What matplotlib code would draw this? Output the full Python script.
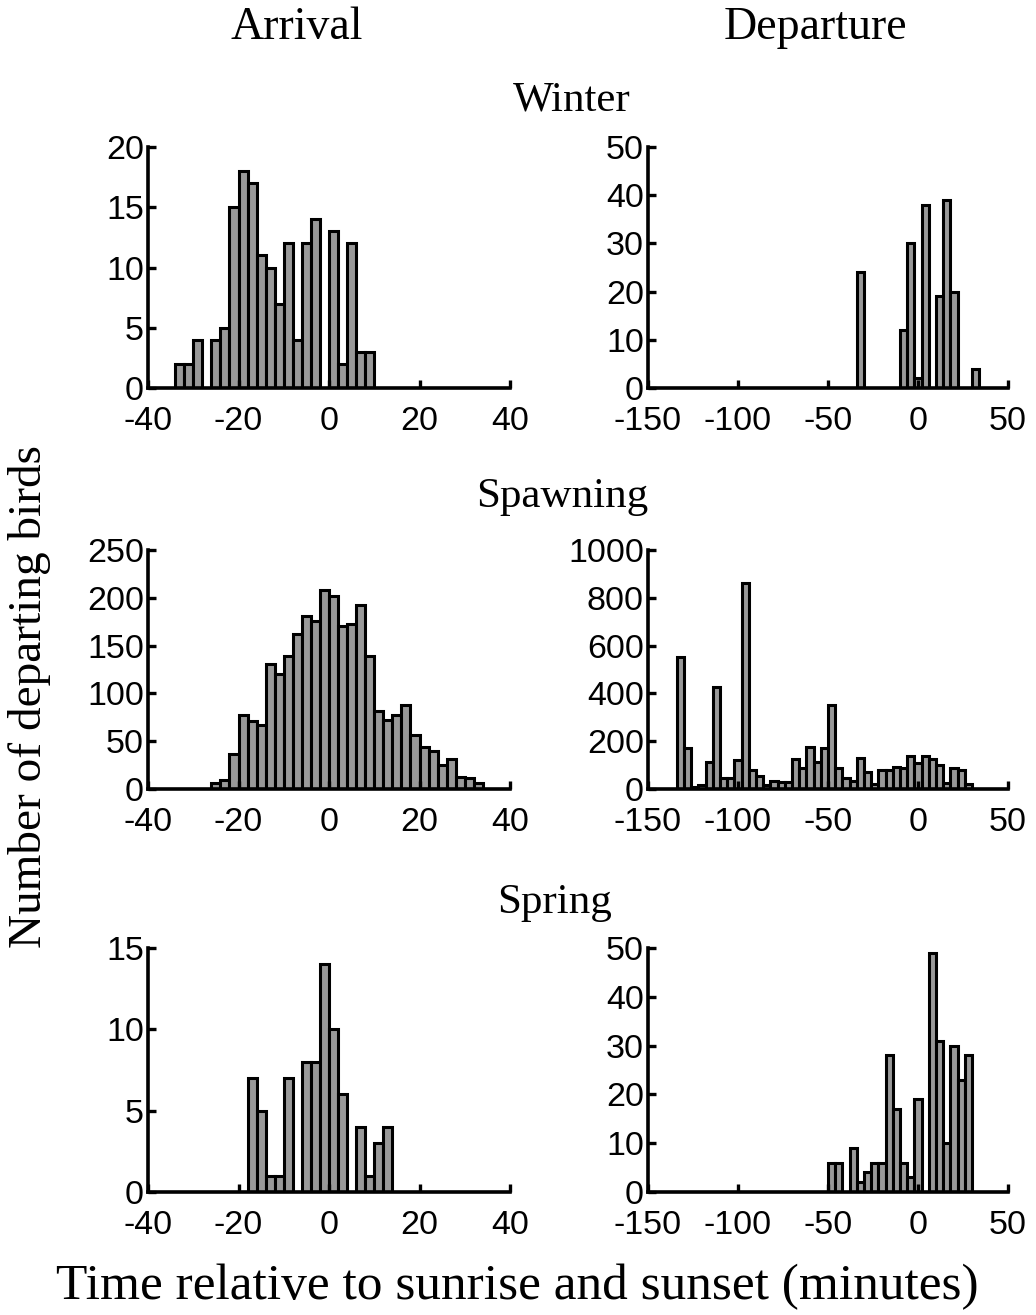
import matplotlib.pyplot as plt
import numpy as np

plt.rcParams['axes.unicode_minus'] = False

# Histograms: first bin edge (min), bin width (min), counts
win_arr_start, win_arr_w = -34, 2
win_arr = [2, 2, 4, 0, 4, 5, 15, 18, 17, 11, 10, 7, 12, 4, 12, 14, 0, 13, 2, 12, 3, 3]

win_dep_start, win_dep_w = -34, 4
win_dep = [24, 0, 0, 0, 0, 0, 12, 30, 2, 38, 0, 19, 39, 20, 0, 0, 4]

spa_arr_start, spa_arr_w = -26, 2
spa_arr = [6, 9, 37, 77, 71, 67, 131, 120, 139, 162, 181, 176, 208, 202, 170,
           173, 192, 139, 82, 72, 77, 88, 56, 44, 40, 25, 31, 13, 12, 6]

spa_dep_start, spa_dep_w = -134, 4
spa_dep = [553, 170, 10, 17, 111, 428, 45, 45, 122, 862, 80, 56, 17, 35, 28, 28,
           125, 87, 176, 115, 170, 352, 89, 47, 33, 130, 70, 22, 80, 80, 91, 86,
           140, 110, 140, 127, 99, 26, 87, 81, 19]

spr_arr_start, spr_arr_w = -18, 2
spr_arr = [7, 5, 1, 1, 7, 0, 8, 8, 14, 10, 6, 0, 4, 1, 3, 4]

spr_dep_start, spr_dep_w = -50, 4
spr_dep = [6, 6, 0, 9, 2, 4, 6, 6, 28, 17, 6, 3, 19, 0, 49, 31, 10, 30, 23, 28]

arr_xlim, arr_xticks = (-40, 40), [-40, -20, 0, 20, 40]
dep_xlim, dep_xticks = (-150, 50), [-150, -100, -50, 0, 50]

panels = [
    # (start, width, counts, xlim, xticks, ymax, ystep)
    (win_arr_start, win_arr_w, win_arr, arr_xlim, arr_xticks, 20, 5),
    (win_dep_start, win_dep_w, win_dep, dep_xlim, dep_xticks, 50, 10),
    (spa_arr_start, spa_arr_w, spa_arr, arr_xlim, arr_xticks, 250, 50),
    (spa_dep_start, spa_dep_w, spa_dep, dep_xlim, dep_xticks, 1000, 200),
    (spr_arr_start, spr_arr_w, spr_arr, arr_xlim, arr_xticks, 15, 5),
    (spr_dep_start, spr_dep_w, spr_dep, dep_xlim, dep_xticks, 50, 10),
]

W, H = 1036, 1315
fig = plt.figure(figsize=(W / 100, H / 100), dpi=100)

cols = [(148, 510), (648, 1008)]
rows = [(147, 388), (550, 789), (948, 1192)]

serif = 'Liberation Serif'
sans = 'Liberation Sans'

for i, (start, bw, counts, xlim, xticks, ymax, ystep) in enumerate(panels):
    x0, x1 = cols[i % 2]
    y0, y1 = rows[i // 2]
    ax = fig.add_axes([x0 / W, 1 - y1 / H, (x1 - x0) / W, (y1 - y0) / H])
    counts = np.array(counts)
    lefts = start + bw * np.arange(len(counts))
    keep = counts > 0
    ax.bar(lefts[keep], counts[keep], width=bw, align='edge',
           color='#999999', edgecolor='black', linewidth=2.2)
    ax.set_xlim(*xlim)
    ax.set_ylim(0, ymax)
    ax.set_xticks(xticks)
    ax.set_yticks(np.arange(0, ymax + 1, ystep))
    for s in ['top', 'right']:
        ax.spines[s].set_visible(False)
    for s in ['left', 'bottom']:
        ax.spines[s].set_linewidth(2.6)
    ax.tick_params(direction='in', length=6, width=2.4, labelsize=24.5)
    ax.tick_params(axis='x', pad=13)
    ax.tick_params(axis='y', pad=3)
    for lab in ax.get_xticklabels() + ax.get_yticklabels():
        lab.set_family(sans)

fig.text(297 / W, 1 - 28 / H, 'Arrival', ha='center', va='center', family=serif, size=33)
fig.text(815 / W, 1 - 28 / H, 'Departure', ha='center', va='center', family=serif, size=33)
fig.text(572 / W, 1 - 100 / H, 'Winter', ha='center', va='center', family=serif, size=31)
fig.text(562 / W, 1 - 497 / H, 'Spawning', ha='center', va='center', family=serif, size=31)
fig.text(555 / W, 1 - 903 / H, 'Spring', ha='center', va='center', family=serif, size=31)
fig.text(30 / W, 1 - 697 / H, 'Number of departing birds', ha='center', va='center',
         rotation=90, family=serif, size=34)
fig.text(517 / W, 1 - 1287 / H, 'Time relative to sunrise and sunset (minutes)',
         ha='center', va='center', family=serif, size=37)

fig.savefig('out.png', dpi=100)
